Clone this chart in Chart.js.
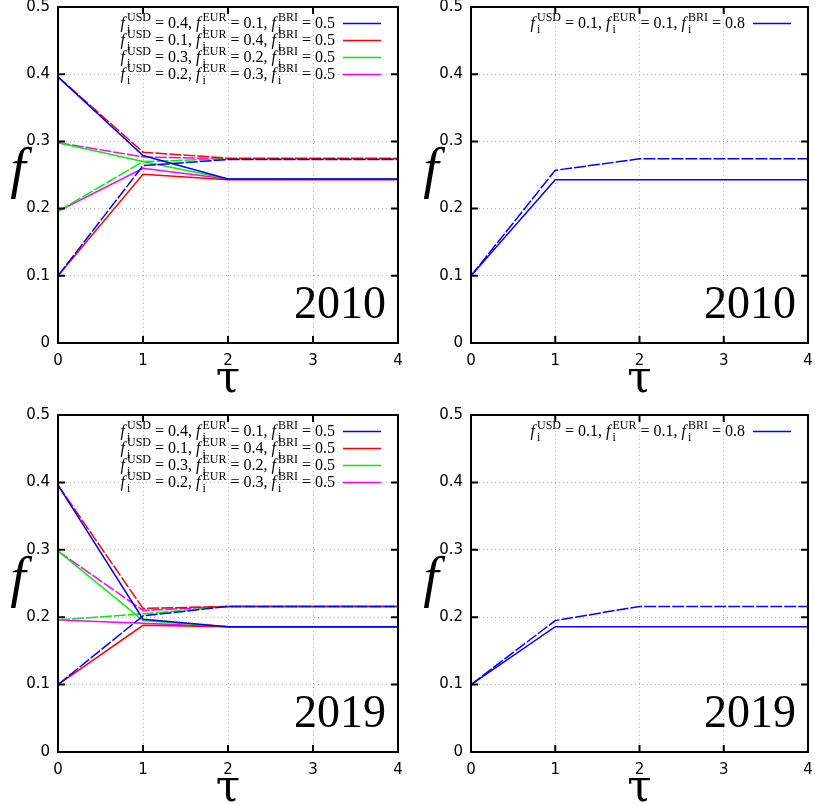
<!DOCTYPE html>
<html>
<head>
<meta charset="utf-8">
<script src="https://cdn.jsdelivr.net/npm/chart.js@4.4.1/dist/chart.umd.min.js"></script>
<style>
  body { margin: 0; background: #fff; width: 815px; height: 805px; position: relative; overflow: hidden; }
  canvas { position: absolute; }
</style>
</head>
<body>
<script>
// time steps and axis ticks
const taus = [0, 1, 2, 3, 4];
const yTicks = [0, 0.1, 0.2, 0.3, 0.4, 0.5];

// initial shares shown in the keys
const startUSD = [0.4, 0.1, 0.3, 0.2];
const startEUR = [0.1, 0.4, 0.2, 0.3];
const startBRI = [0.5, 0.5, 0.5, 0.5];
const soloStart = [0.1, 0.1, 0.8];

// 2010, four mixed starts (USD solid, EUR dashed)
const usd2010a = [0.396, 0.279, 0.244, 0.244, 0.244];
const usd2010b = [0.100, 0.251, 0.243, 0.243, 0.243];
const usd2010c = [0.298, 0.270, 0.244, 0.244, 0.244];
const usd2010d = [0.196, 0.260, 0.244, 0.244, 0.244];
const eur2010a = [0.100, 0.264, 0.273, 0.273, 0.273];
const eur2010b = [0.396, 0.284, 0.275, 0.275, 0.275];
const eur2010c = [0.196, 0.270, 0.274, 0.274, 0.274];
const eur2010d = [0.298, 0.277, 0.274, 0.274, 0.274];

// 2010, BRI heavy start
const usd2010s = [0.100, 0.243, 0.243, 0.243, 0.243];
const eur2010s = [0.100, 0.257, 0.274, 0.274, 0.274];

// 2019, four mixed starts
const usd2019a = [0.396, 0.197, 0.186, 0.186, 0.186];
const usd2019b = [0.100, 0.188, 0.186, 0.186, 0.186];
const usd2019c = [0.298, 0.195, 0.186, 0.186, 0.186];
const usd2019d = [0.196, 0.191, 0.186, 0.186, 0.186];
const eur2019a = [0.100, 0.202, 0.216, 0.216, 0.216];
const eur2019b = [0.396, 0.213, 0.216, 0.216, 0.216];
const eur2019c = [0.196, 0.205, 0.216, 0.216, 0.216];
const eur2019d = [0.298, 0.210, 0.216, 0.216, 0.216];

// 2019, BRI heavy start
const usd2019s = [0.100, 0.186, 0.186, 0.186, 0.186];
const eur2019s = [0.100, 0.195, 0.216, 0.216, 0.216];

const COLORS = ['#0000ff', '#ff0000', '#00ee00', '#ff00ff'];
const SERIF = '"Liberation Serif", "Times New Roman", serif';
const SANS = '"DejaVu Sans", sans-serif';

function pts(vals) {
  return taus.map((t, k) => ({ x: t, y: vals[k] }));
}

function drawKey(ctx, xEnd, base, parts) {
  const big = '16px ' + SERIF, bigI = 'italic 16px ' + SERIF, small = '12px ' + SERIF;
  const segs = [];
  parts.forEach((p, j) => {
    segs.push({ t: 'f', font: bigI, pad: 2 });
    segs.push({ sub: 'i', sup: p[0] });
    segs.push({ t: ' = ' + p[1] + (j < parts.length - 1 ? ', ' : ''), font: big });
  });
  let w = 0;
  segs.forEach(s => {
    if (s.sub) {
      ctx.font = small;
      s.w = Math.max(ctx.measureText(s.sub).width, ctx.measureText(s.sup).width);
    } else {
      ctx.font = s.font;
      s.w = ctx.measureText(s.t).width + (s.pad || 0);
    }
    w += s.w;
  });
  let x = xEnd - w;
  ctx.fillStyle = '#000';
  ctx.textAlign = 'left';
  ctx.textBaseline = 'alphabetic';
  segs.forEach(s => {
    if (s.sub) {
      ctx.font = small;
      ctx.fillText(s.sub, x, base + 5);
      ctx.fillText(s.sup, x, base - 7);
    } else {
      ctx.font = s.font;
      ctx.fillText(s.t, x, base);
    }
    x += s.w;
  });
}

const overlay = {
  id: 'overlay',
  afterDraw(chart, args, o) {
    const ctx = chart.ctx;
    const { left, right, top, bottom } = chart.chartArea;
    const xs = chart.scales.x, ys = chart.scales.y;
    ctx.save();
    // frame and inward ticks
    ctx.strokeStyle = '#000';
    ctx.lineWidth = 2;
    ctx.strokeRect(left, top, right - left, bottom - top);
    ctx.beginPath();
    yTicks.forEach(v => {
      const py = ys.getPixelForValue(v);
      ctx.moveTo(left, py); ctx.lineTo(left + 7, py);
      ctx.moveTo(right, py); ctx.lineTo(right - 7, py);
    });
    taus.forEach(t => {
      const px = xs.getPixelForValue(t);
      ctx.moveTo(px, bottom); ctx.lineTo(px, bottom - 7);
      ctx.moveTo(px, top); ctx.lineTo(px, top + 7);
    });
    ctx.stroke();

    // axis titles
    ctx.fillStyle = '#000';
    ctx.textAlign = 'center';
    ctx.textBaseline = 'alphabetic';
    ctx.font = 'italic 56px ' + SERIF;
    ctx.fillText('f', left - 40, (top + bottom) / 2 + 12);
    ctx.font = '44px "DejaVu Serif", serif';
    ctx.fillText('τ', (left + right) / 2, bottom + 49);

    // year
    ctx.textAlign = 'right';
    ctx.font = '46px ' + SERIF;
    ctx.fillText(o.year, right - 12, bottom - 25);

    // key
    o.keys.forEach((parts, i) => {
      const base = top + 21 + i * 17;
      drawKey(ctx, right - 63, base, parts);
      ctx.strokeStyle = o.colors[i];
      ctx.lineWidth = 1.5;
      ctx.beginPath();
      ctx.moveTo(right - 55, base - 4.5);
      ctx.lineTo(right - 17, base - 4.5);
      ctx.stroke();
    });
    ctx.restore();
  }
};

function makePanel(area, year, usdList, eurList, keys) {
  const cLeft = area.l - area.yw;
  const cTop = area.t - 20;
  const cw = area.r - cLeft + 15;
  const ch = area.b - cTop + 60;
  const canvas = document.createElement('canvas');
  canvas.width = cw; canvas.height = ch;
  canvas.style.left = cLeft + 'px';
  canvas.style.top = cTop + 'px';
  document.body.appendChild(canvas);

  const datasets = [];
  usdList.forEach((u, i) => {
    datasets.push({ data: pts(u), borderColor: COLORS[i], borderWidth: 1.5, pointRadius: 0, tension: 0 });
    datasets.push({ data: pts(eurList[i]), borderColor: COLORS[i], borderWidth: 1.5, pointRadius: 0, tension: 0, borderDash: [12, 2] });
  });

  new Chart(canvas, {
    type: 'line',
    data: { datasets },
    plugins: [overlay],
    options: {
      responsive: false,
      animation: false,
      events: [],
      layout: { padding: { left: 0, right: 15, top: 20, bottom: 0 } },
      plugins: {
        legend: { display: false },
        tooltip: { enabled: false },
        overlay: { year, keys, colors: COLORS }
      },
      scales: {
        x: {
          type: 'linear', min: 0, max: 4,
          afterFit: s => { s.height = 60; },
          afterBuildTicks: s => { s.ticks = taus.map(v => ({ value: v })); },
          ticks: { color: '#000', padding: 9, font: { family: SANS, size: 15 }, maxRotation: 0 },
          grid: { color: '#b4b4b4', drawTicks: false, lineWidth: 1 },
          border: { display: false, dash: [1, 3] }
        },
        y: {
          min: 0, max: 0.5,
          afterFit: s => { s.width = area.yw; },
          afterBuildTicks: s => { s.ticks = yTicks.map(v => ({ value: v })); },
          ticks: {
            color: '#000', padding: 8, font: { family: SANS, size: 15 },
            callback: v => v === 0 ? '0' : v.toFixed(1)
          },
          grid: { color: '#b4b4b4', drawTicks: false, lineWidth: 1 },
          border: { display: false, dash: [1, 3] }
        }
      }
    }
  });
}

const mixedKeys = startUSD.map((u, i) => [['USD', u], ['EUR', startEUR[i]], ['BRI', startBRI[i]]]);
const soloKeys = [[['USD', soloStart[0]], ['EUR', soloStart[1]], ['BRI', soloStart[2]]]];

makePanel({ l: 58, r: 398, t: 7, b: 343, yw: 58 }, '2010',
  [usd2010a, usd2010b, usd2010c, usd2010d], [eur2010a, eur2010b, eur2010c, eur2010d], mixedKeys);
makePanel({ l: 471, r: 808, t: 7, b: 343, yw: 61 }, '2010',
  [usd2010s], [eur2010s], soloKeys);
makePanel({ l: 58, r: 398, t: 415, b: 752, yw: 58 }, '2019',
  [usd2019a, usd2019b, usd2019c, usd2019d], [eur2019a, eur2019b, eur2019c, eur2019d], mixedKeys);
makePanel({ l: 471, r: 808, t: 415, b: 752, yw: 61 }, '2019',
  [usd2019s], [eur2019s], soloKeys);
</script>
</body>
</html>
